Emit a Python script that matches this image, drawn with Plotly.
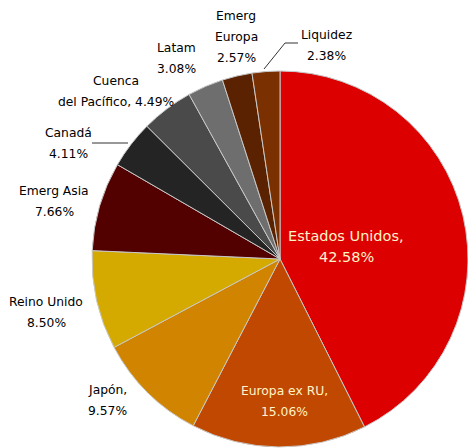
import plotly.graph_objects as go

W, H = 468, 448

labels = ["Estados Unidos", "Europa ex RU", "Japón", "Reino Unido", "Emerg Asia",
          "Canadá", "Cuenca del Pacífico", "Latam", "Emerg Europa", "Liquidez"]
values = [42.58, 15.06, 9.57, 8.50, 7.66, 4.11, 4.49, 3.08, 2.57, 2.38]
colors = ["#dc0000", "#c04800", "#d08400", "#d4aa00", "#520000",
          "#242424", "#4a4a4a", "#6e6e6e", "#5a2200", "#7a3000"]

# label text lines ({v} -> value)
label_lines = [
    ["Estados Unidos,", "{v}%"],
    ["Europa ex RU,", "{v}%"],
    ["Japón,", "{v}%"],
    ["Reino Unido", "{v}%"],
    ["Emerg Asia", "{v}%"],
    ["Canadá", "{v}%"],
    ["Cuenca", "del Pacífico, {v}%"],
    ["Latam", "{v}%"],
    ["Emerg", "Europa", "{v}%"],
    ["Liquidez", "{v}%"],
]
# label anchor (center x px, first-line y px), font size, colour
label_pos = [(346, 236), (284, 391), (107, 390), (46, 302), (54, 191),
             (68, 133), (116, 81), (176, 48), (236, 16), (326, 35)]
label_size = [14.5, 12.3, 12.3, 12.3, 12.3, 12.3, 12.3, 12.3, 12.3, 12.3]
label_color = ["#fff4c8", "#fff4c8"] + ["#000000"] * 8
LINE_H = 21

def px(x):
    return x / W

def py(y):
    return 1 - y / H

cx, cy, r = 280, 259, 188
fig = go.Figure(go.Pie(
    labels=labels, values=values, sort=False, direction="clockwise", rotation=0,
    marker=dict(colors=colors, line=dict(color="#c8c8c8", width=1)),
    textinfo="none", hoverinfo="label+percent", showlegend=False,
    domain=dict(x=[px(cx - r), min(1, px(cx + r))], y=[max(0, py(cy + r)), py(cy - r)]),
))

annotations = []
for lines, v, (x, y), s, c in zip(label_lines, values, label_pos, label_size, label_color):
    for i, ln in enumerate(lines):
        annotations.append(dict(
            x=px(x), y=py(y + i * LINE_H), xref="paper", yref="paper",
            text=ln.format(v=f"{v:.2f}"), showarrow=False, xanchor="center", yanchor="middle",
            font=dict(family="DejaVu Sans", size=s, color=c),
        ))

leaders = [
    [(264, 69), (285, 43), (298, 43)],
    [(92, 143), (128, 143)],
]
shapes = []
for pts in leaders:
    path = "M " + " L ".join(f"{px(a)},{py(b)}" for a, b in pts)
    shapes.append(dict(type="path", path=path, xref="paper", yref="paper",
                       line=dict(color="#333333", width=1)))

fig.update_layout(
    width=W, height=H, margin=dict(l=0, r=0, t=0, b=0),
    paper_bgcolor="white", plot_bgcolor="white",
    annotations=annotations, shapes=shapes,
)
fig.write_html("out.html")
